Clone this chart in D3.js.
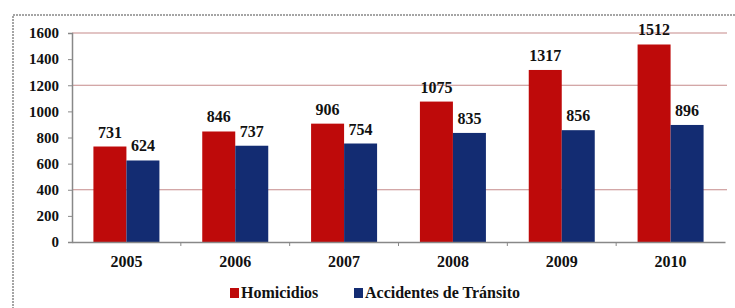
<!DOCTYPE html>
<html lang="es">
<head>
    <meta charset="UTF-8">
    <title>Homicidios y Accidentes de Tránsito</title>
    <script src="https://d3js.org/d3.v7.min.js"></script>
    <style>
        body { margin: 0; background: #fff; }
        svg text { font-family: "Liberation Serif", "Times New Roman", serif; font-weight: bold; fill: #111; }
    </style>
</head>
<body>
    <svg id="chart" width="735" height="308"></svg>
    <script>
        // Data
        const years = ['2005', '2006', '2007', '2008', '2009', '2010'];
        const homicidios = [731, 846, 906, 1075, 1317, 1512];
        const accidentes = [624, 737, 754, 835, 856, 896];
        const seriesNames = ['Homicidios', 'Accidentes de Tránsito'];
        const yTicks = [0, 200, 400, 600, 800, 1000, 1200, 1400, 1600];
        const gridValues = [400, 1200, 1600];

        const colors = ['#be0a0a', '#132c72'];
        const svg = d3.select('#chart');

        const margin = { left: 72, top: 33 };
        const plotRight = 725;
        const plotBottom = 242;

        // Outer dashed frame
        svg.append('rect')
            .attr('x', 13).attr('y', 15)
            .attr('width', 740).attr('height', 310)
            .attr('fill', 'none')
            .attr('stroke', '#888')
            .attr('stroke-width', 1.5)
            .attr('stroke-dasharray', '2,1');

        const x = d3.scaleBand()
            .domain(years)
            .range([margin.left, plotRight]);

        const xInner = d3.scaleBand()
            .domain([0, 1])
            .range([0, 66]);

        const y = d3.scaleLinear()
            .domain([0, 1600])
            .range([plotBottom, margin.top]);

        // Gridlines
        svg.append('g')
            .selectAll('line')
            .data(gridValues)
            .join('line')
            .attr('x1', margin.left).attr('x2', plotRight + 2)
            .attr('y1', d => y(d)).attr('y2', d => y(d))
            .attr('stroke', '#c58a8a')
            .attr('stroke-width', 1.2);

        // Bars
        const rows = years.map((yr, i) => ({ year: yr, values: [homicidios[i], accidentes[i]] }));
        const groups = svg.append('g')
            .selectAll('g')
            .data(rows)
            .join('g')
            .attr('transform', d => `translate(${x(d.year) + (x.bandwidth() - 66) / 2},0)`);

        groups.selectAll('rect')
            .data(d => d.values.map((v, k) => ({ v, k })))
            .join('rect')
            .attr('x', d => xInner(d.k))
            .attr('width', xInner.bandwidth())
            .attr('y', d => y(d.v))
            .attr('height', d => plotBottom - y(d.v))
            .attr('fill', d => colors[d.k]);

        groups.selectAll('text')
            .data(d => d.values.map((v, k) => ({ v, k })))
            .join('text')
            .attr('x', d => xInner(d.k) + xInner.bandwidth() / 2)
            .attr('y', d => y(d.v) - 9)
            .attr('text-anchor', 'middle')
            .attr('font-size', 16)
            .text(d => d.v);

        // Y axis
        const yAxis = svg.append('g')
            .attr('transform', `translate(${margin.left},0)`)
            .call(d3.axisLeft(y).tickValues(yTicks).tickFormat(d3.format('d')).tickSize(4).tickPadding(9));
        yAxis.select('.domain').attr('stroke', '#888').attr('stroke-width', 1.5);
        yAxis.selectAll('.tick line').attr('stroke', '#888');
        yAxis.selectAll('text').attr('font-size', 15);

        // X axis
        const xAxis = svg.append('g')
            .attr('transform', `translate(0,${plotBottom})`)
            .call(d3.axisBottom(x).tickSize(0).tickPadding(14));
        xAxis.select('.domain').attr('stroke', '#888').attr('stroke-width', 1.5);
        xAxis.selectAll('text').attr('font-size', 16);
        xAxis.selectAll('.boundary')
            .data(years.slice(1))
            .join('line')
            .attr('x1', d => x(d)).attr('x2', d => x(d))
            .attr('y1', 0).attr('y2', 4)
            .attr('stroke', '#888');

        // Legend
        const legendX = [230, 354];
        const legend = svg.append('g')
            .selectAll('g')
            .data(seriesNames)
            .join('g')
            .attr('transform', (d, i) => `translate(${legendX[i]},288)`);
        legend.append('rect')
            .attr('width', 9).attr('height', 10)
            .attr('fill', (d, i) => colors[i]);
        legend.append('text')
            .attr('x', 11).attr('y', 10)
            .attr('font-size', 16)
            .text(d => d);
    </script>
</body>
</html>
